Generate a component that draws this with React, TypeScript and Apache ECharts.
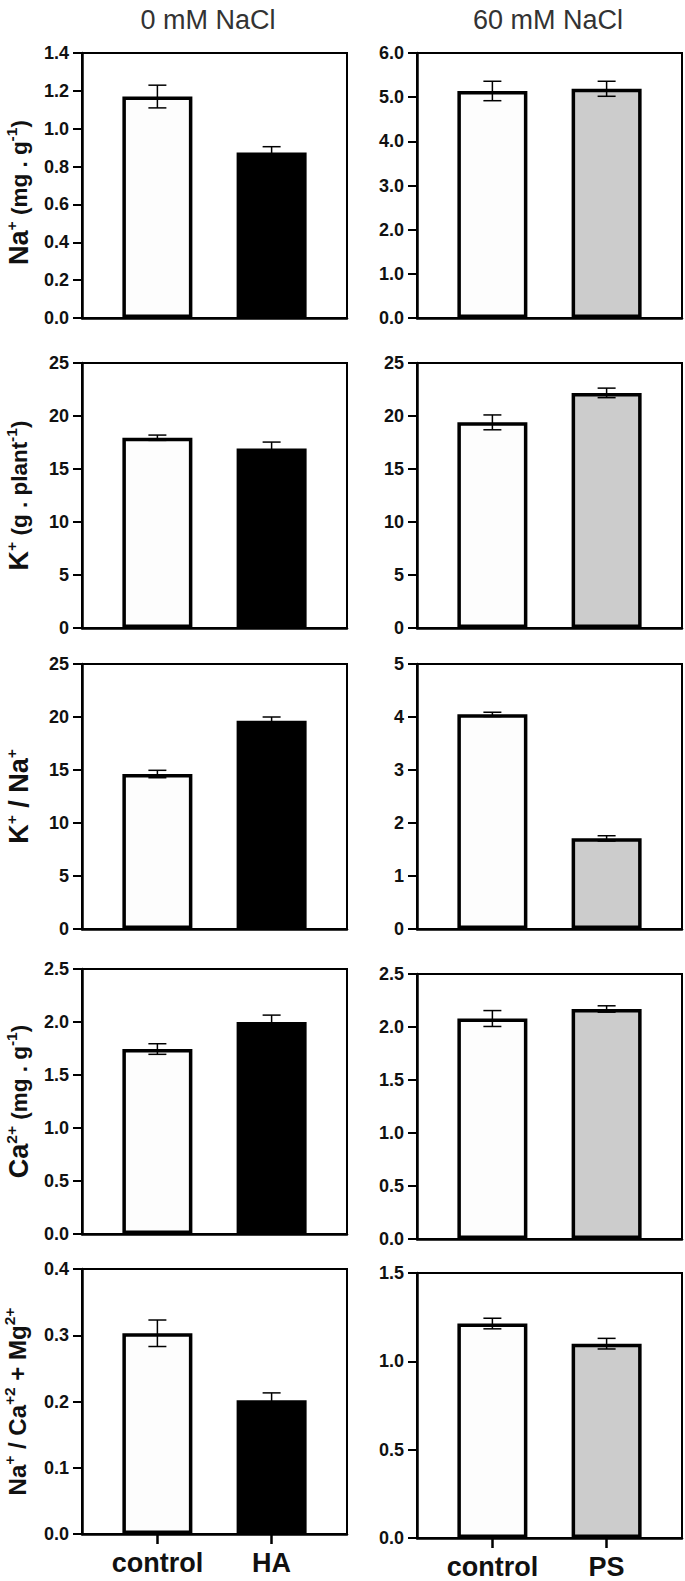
import React, { useEffect, useRef } from "react";
import * as echarts from "echarts";

// ---- data ----
const groups0 = ["control", "HA"];
const groups60 = ["control", "PS"];
const headers = ["0 mM NaCl", "60 mM NaCl"];

const naMean0 = [1.17, 0.875];
const naErr0 = [0.06, 0.03];
const naMean60 = [5.14, 5.19];
const naErr60 = [0.22, 0.17];

const kMean0 = [17.95, 16.94];
const kErr0 = [0.25, 0.6];
const kMean60 = [19.4, 22.18];
const kErr60 = [0.7, 0.45];

const knaMean0 = [14.62, 19.65];
const knaErr0 = [0.35, 0.35];
const knaMean60 = [4.05, 1.71];
const knaErr60 = [0.04, 0.05];

const caMean0 = [1.745, 2.0];
const caErr0 = [0.05, 0.065];
const caMean60 = [2.08, 2.17];
const caErr60 = [0.075, 0.03];

const ratioMean0 = [0.303, 0.202];
const ratioErr0 = [0.02, 0.011];
const ratioMean60 = [1.214, 1.1];
const ratioErr60 = [0.03, 0.03];

const yMax0 = [1.4, 25, 25, 2.5, 0.4];
const yStep0 = [0.2, 5, 5, 0.5, 0.1];
const yMax60 = [6.0, 25, 5, 2.5, 1.5];
const yStep60 = [1, 5, 1, 0.5, 0.5];
const yDecimals0 = [1, 0, 0, 1, 1];
const yDecimals60 = [1, 0, 0, 1, 1];

// ---- styling ----
const FONT = '"Liberation Sans", Arial, Helvetica, sans-serif';
const W = 685;
const H = 1581;
const fill0 = ["#fdfdfd", "#000000"];
const fill60 = ["#fdfdfd", "#cccccc"];

const rowTopsL = [53, 363, 664, 969, 1269];
const rowTopsR = [53, 363, 664, 974, 1273];
const plotH = 265;
const leftX = 82;
const rightX = 417;
const plotW = 265;

const means0 = [naMean0, kMean0, knaMean0, caMean0, ratioMean0];
const errs0 = [naErr0, kErr0, knaErr0, caErr0, ratioErr0];
const means60 = [naMean60, kMean60, knaMean60, caMean60, ratioMean60];
const errs60 = [naErr60, kErr60, knaErr60, caErr60, ratioErr60];

const tok = (size: number, lh: number, va: string) => ({
  fontSize: size,
  fontWeight: "bold",
  fontFamily: FONT,
  fill: "#111",
  color: "#111",
  lineHeight: lh,
  verticalAlign: va,
});

const titleRich = {
  b: tok(27, 31, "middle"),
  m: tok(22.5, 31, "middle"),
  n: tok(24, 31, "middle"),
  s: tok(15.5, 19, "top"),
};

const yTitles = [
  "{b|Na}{s|+}{m| (mg . g}{s|-1}{m|)}",
  "{b|K}{s|+}{m| (g . plant}{s|-1}{m|)}",
  "{b|K}{s|+}{b| / Na}{s|+}",
  "{b|Ca}{s|2+}{m| (mg . g}{s|-1}{m|)}",
  "{n|Na}{s|+}{n| / Ca}{s|+2}{n| + Mg}{s|2+}",
];
const yTitleShift = [7, 0, 0, 0, 0];

function buildOption() {
  const grid: any[] = [];
  const xAxis: any[] = [];
  const yAxis: any[] = [];
  const series: any[] = [];
  const graphic: any[] = [];

  headers.forEach((h, c) => {
    graphic.push({
      type: "text",
      x: c === 0 ? 208 : 548,
      y: 20,
      style: {
        text: h,
        font: `normal 27px ${FONT}`,
        fill: "#333",
        align: "center",
        verticalAlign: "middle",
        textAlign: "center",
        textVerticalAlign: "middle",
      },
    });
  });

  for (let r = 0; r < 5; r++) {
    for (let c = 0; c < 2; c++) {
      const idx = grid.length;
      const top = c === 0 ? rowTopsL[r] : rowTopsR[r];
      grid.push({
        left: c === 0 ? leftX : rightX,
        top,
        width: plotW,
        height: plotH,
        show: true,
        borderColor: "#000",
        borderWidth: 2,
        backgroundColor: "transparent",
      });
      const groups = c === 0 ? groups0 : groups60;
      const fills = c === 0 ? fill0 : fill60;
      const means = c === 0 ? means0[r] : means60[r];
      const errs = c === 0 ? errs0[r] : errs60[r];
      const max = c === 0 ? yMax0[r] : yMax60[r];
      const step = c === 0 ? yStep0[r] : yStep60[r];
      const dec = c === 0 ? yDecimals0[r] : yDecimals60[r];
      const bottom = r === 4;

      xAxis.push({
        type: "value",
        gridIndex: idx,
        min: -0.66,
        max: 1.66,
        splitLine: { show: false },
        axisLine: { show: true, onZero: false, lineStyle: { color: "#000", width: 2.5 } },
        axisTick: {
          show: bottom,
          customValues: [0, 1],
          length: 10,
          lineStyle: { color: "#000", width: 2.5 },
        },
        axisLabel: {
          show: bottom,
          customValues: [0, 1],
          formatter: (v: number) => groups[Math.round(v)] ?? "",
          fontSize: 27,
          fontWeight: "bold",
          fontFamily: FONT,
          color: "#111",
          margin: 15,
        },
      });
      yAxis.push({
        type: "value",
        gridIndex: idx,
        min: 0,
        max,
        interval: step,
        splitLine: { show: false },
        axisLine: { show: true, onZero: false, lineStyle: { color: "#000", width: 2.5 } },
        axisTick: { show: true, length: 9, lineStyle: { color: "#000", width: 2 } },
        axisLabel: {
          fontSize: 18,
          fontWeight: "bold",
          fontFamily: FONT,
          color: "#111",
          margin: 13,
          formatter: (v: number) => v.toFixed(dec),
        },
      });
      series.push({
        type: "bar",
        xAxisIndex: idx,
        yAxisIndex: idx,
        barWidth: 70,
        data: means.map((v, i) => ({
          value: [i, v],
          itemStyle: { color: fills[i], borderColor: "#000", borderWidth: 3.5 },
        })),
        z: 2,
      });
      series.push({
        type: "custom",
        xAxisIndex: idx,
        yAxisIndex: idx,
        encode: { x: 0, y: 1 },
        z: 3,
        data: means.map((v, i) => [i, v, errs[i]]),
        renderItem: (params: any, api: any) => {
          const x = api.value(0);
          const m = api.value(1);
          const e = api.value(2);
          const t = api.coord([x, m + e]);
          const b = api.coord([x, m - e]);
          const hw = 9;
          const st = { stroke: "#000", lineWidth: 1.5 };
          return {
            type: "group",
            children: [
              { type: "line", shape: { x1: t[0], y1: t[1], x2: b[0], y2: b[1] }, style: st },
              { type: "line", shape: { x1: t[0] - hw, y1: t[1], x2: t[0] + hw, y2: t[1] }, style: st },
              { type: "line", shape: { x1: b[0] - hw, y1: b[1], x2: b[0] + hw, y2: b[1] }, style: st },
            ],
          };
        },
      });
    }
    graphic.push({
      type: "text",
      x: r === 4 ? 17 : 19,
      y: rowTopsL[r] + plotH / 2 + yTitleShift[r],
      rotation: Math.PI / 2,
      style: {
        text: yTitles[r],
        rich: titleRich,
        align: "center",
        verticalAlign: "middle",
        textAlign: "center",
        textVerticalAlign: "middle",
        fill: "#111",
      },
    });
  }

  return {
    animation: false,
    backgroundColor: "#ffffff",
    grid,
    xAxis,
    yAxis,
    series,
    graphic,
  };
}

export default function App() {
  const ref = useRef<HTMLDivElement>(null);
  useEffect(() => {
    if (!ref.current) return;
    const chart = echarts.init(ref.current, null, { renderer: "svg", width: W, height: H });
    chart.setOption(buildOption() as any);
    return () => chart.dispose();
  }, []);
  return (
    <div
      ref={ref}
      style={{ position: "absolute", left: 0, top: 0, width: W, height: H, background: "#fff" }}
    />
  );
}
